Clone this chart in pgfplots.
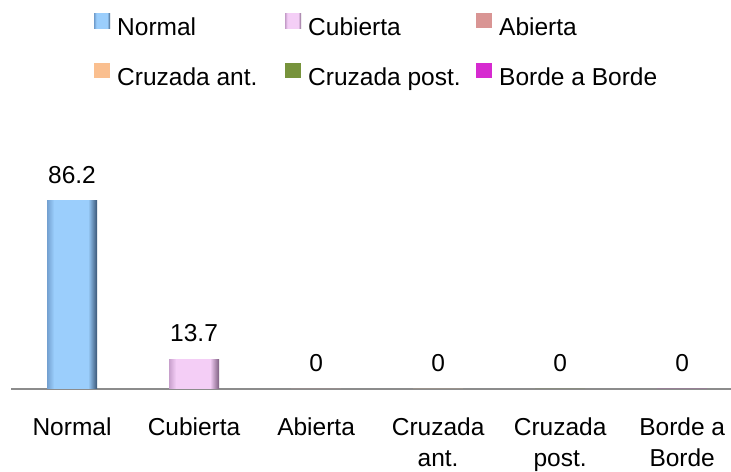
\documentclass[border=0pt]{standalone}
\usepackage{pgfplots}
\pgfplotsset{compat=1.18}
\usepackage{fontspec}
\setmainfont{Liberation Sans}
\definecolor{nmid}{RGB}{155,206,252}
\definecolor{nleft}{RGB}{115,160,208}
\definecolor{nright}{RGB}{58,86,118}
\definecolor{cmid}{RGB}{244,206,246}
\definecolor{cleft}{RGB}{200,160,204}
\definecolor{cright}{RGB}{125,94,128}
\definecolor{cabi}{RGB}{217,149,148}
\definecolor{cant}{RGB}{250,191,143}
\definecolor{cpost}{RGB}{119,147,60}
\definecolor{cbor}{RGB}{214,42,208}
\pgfdeclarehorizontalshading{nbar}{100bp}{color(0bp)=(nleft); color(25bp)=(nleft); color(32bp)=(nmid); color(66bp)=(nmid); color(75bp)=(nright); color(100bp)=(nright)}
\pgfdeclarehorizontalshading{cbar}{100bp}{color(0bp)=(cleft); color(25bp)=(cleft); color(32bp)=(cmid); color(66bp)=(cmid); color(75bp)=(cright); color(100bp)=(cright)}
\begin{document}
\begin{tikzpicture}
\path[use as bounding box] (0,0) rectangle (731bp,472bp);
\begin{axis}[
  at={(11bp,83bp)}, anchor=south west,
  scale only axis, width=720bp, height=248bp,
  xmin=-0.5, xmax=5.40, ymin=0, ymax=113.7,
  axis x line*=bottom, axis y line=none,
  x axis line style={draw=black!45, line width=2.2bp},
  ytick=\empty,
  xtick={0,1,2,3,4,5},
  xticklabels={{Normal},{Cubierta},{Abierta},{Cruzada\\ant.},{Cruzada\\post.},{Borde a\\Borde}},
  xtick style={draw=none},
  xticklabel style={align=center, inner sep=0pt, anchor=north, yshift=-24.5bp, font=\fontsize{24.5bp}{31bp}\selectfont},
  clip=false,
  ybar, bar width=50bp, bar shift=0bp,
  /pgf/number format/assume math mode=true,
  nodes near coords,
  every node near coord/.append style={anchor=south, inner sep=0pt, yshift=17.5bp, font=\fontsize{24.5bp}{30bp}\selectfont, text=black},
  legend columns=3,
  legend style={at={(0.1153,1.516)}, anchor=north west, draw=none, fill=none, inner sep=0pt,
    column sep=0bp, row sep=22bp,
    /tikz/every odd column/.append style={column sep=7bp},
    nodes={text height=20bp, text depth=6bp, inner sep=0pt, font=\fontsize{24.5bp}{30bp}\selectfont}},
  legend cell align=left,
  legend image code/.code={\fill[#1] (0bp,0bp) rectangle (16bp,15bp);},
]
\addplot[draw=none, shading=nbar] coordinates {(0,86.2)};
\addlegendentry{\makebox[168bp][l]{Normal}}
\addplot[draw=none, shading=cbar] coordinates {(1,13.7)};
\addlegendentry{\makebox[168bp][l]{Cubierta}}
\addplot[draw=none, fill=cabi] coordinates {(2,0)};
\addlegendentry{\makebox[168bp][l]{Abierta}}
\addplot[draw=none, fill=cant] coordinates {(3,0)};
\addlegendentry{\makebox[168bp][l]{Cruzada ant.}}
\addplot[draw=none, fill=cpost] coordinates {(4,0)};
\addlegendentry{\makebox[168bp][l]{Cruzada post.}}
\addplot[draw=none, fill=cbor] coordinates {(5,0)};
\addlegendentry{\makebox[168bp][l]{Borde a Borde}}
\end{axis}
\end{tikzpicture}
\end{document}
